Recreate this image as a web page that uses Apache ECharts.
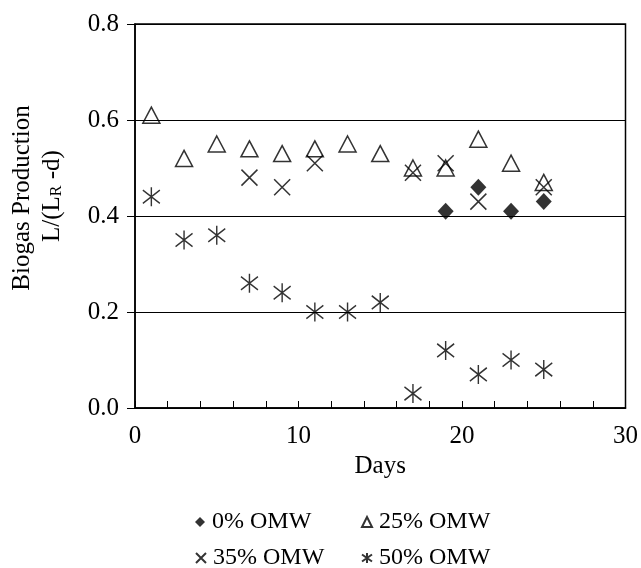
<!DOCTYPE html>
<html><head><meta charset="utf-8">
<script src="https://cdn.jsdelivr.net/npm/echarts@6/dist/echarts.min.js"></script>
<style>html,body{margin:0;padding:0;background:#fff}#c{width:641px;height:568px}</style>
</head><body><div id="c"></div>
<script>
var seriesNames = ['0% OMW', '25% OMW', '35% OMW', '50% OMW'];
var days0 = [19, 21, 23, 25];
var omw0 = [0.41, 0.46, 0.41, 0.43];
var days25 = [1, 3, 5, 7, 9, 11, 13, 15, 17, 19, 21, 23, 25];
var omw25 = [0.61, 0.52, 0.55, 0.54, 0.53, 0.54, 0.55, 0.53, 0.50, 0.50, 0.56, 0.51, 0.47];
var days35 = [7, 9, 11, 17, 19, 21, 25];
var omw35 = [0.48, 0.46, 0.51, 0.49, 0.51, 0.43, 0.46];
var days50 = [1, 3, 5, 7, 9, 11, 13, 15, 17, 19, 21, 23, 25];
var omw50 = [0.44, 0.35, 0.36, 0.26, 0.24, 0.20, 0.20, 0.22, 0.03, 0.12, 0.07, 0.10, 0.08];
var xTicks = [0, 10, 20, 30];
var yTicks = [0.0, 0.2, 0.4, 0.6, 0.8];

function pairs(xs, ys) { return xs.map(function (x, i) { return [x, ys[i]]; }); }
var FONT = '"Liberation Serif", "DejaVu Serif", serif';
var X_PATH = 'path://M0 0 L10 10 M10 0 L0 10';
var AST_PATH = 'path://M5 0 L5 10 M0 1.5 L10 8.5 M10 1.5 L0 8.5';
var LEG_FONT = { fontFamily: FONT, fontSize: 24, color: '#000', padding: [0, 0, 0, 2] };

function leg(name, left, top) {
  return { data: [name], left: left, top: top, itemWidth: 10, itemHeight: 10, itemGap: 0, itemTextGap: 5,
    textStyle: LEG_FONT, padding: 0 };
}

var chart = echarts.init(document.getElementById('c'), null, { renderer: 'canvas' });
chart.setOption({
  backgroundColor: '#fff',
  animation: false,
  textStyle: { fontFamily: FONT, color: '#000' },
  grid: { left: 135, right: 12, top: 24, bottom: 160, show: true, borderColor: '#000', borderWidth: 1.5, backgroundColor: 'transparent' },
  xAxis: {
    type: 'value', min: xTicks[0], max: xTicks[xTicks.length - 1], interval: 10,
    name: 'Days', nameLocation: 'middle', nameGap: 46,
    nameTextStyle: { fontFamily: FONT, fontSize: 25, color: '#000' },
    axisLine: { lineStyle: { color: '#000', width: 1.5 } },
    axisTick: { show: true, inside: true, length: 7, lineStyle: { color: '#000', width: 1 } },
    minorTick: { show: true, splitNumber: 5, length: 7, lineStyle: { color: '#000', width: 1 } },
    axisLabel: { fontFamily: FONT, fontSize: 25, color: '#000', margin: 16 },
    splitLine: { show: false }
  },
  yAxis: {
    type: 'value', min: yTicks[0], max: yTicks[yTicks.length - 1], interval: 0.2,
    axisLine: { show: true, lineStyle: { color: '#000', width: 1.5 } },
    axisTick: { show: true, inside: false, length: 8, lineStyle: { color: '#000', width: 1 } },
    axisLabel: { fontFamily: FONT, fontSize: 25, color: '#000', margin: 16, formatter: function (v) { return v.toFixed(1); } },
    splitLine: { show: true, lineStyle: { color: '#000', width: 1 } }
  },
  legend: [
    leg(seriesNames[0], 195, 510),
    leg(seriesNames[1], 361, 510),
    leg(seriesNames[2], 195, 546),
    leg(seriesNames[3], 361, 546)
  ],
  graphic: [
    { type: 'text', rotation: Math.PI / 2, x: 22, y: 198,
      style: { text: 'Biogas Production', fontFamily: FONT, fontSize: 25, fill: '#000', align: 'center', verticalAlign: 'middle' } },
    { type: 'text', rotation: Math.PI / 2, x: 52, y: 196,
      style: { text: 'L/(L{s|R} -d)', rich: { s: { fontFamily: FONT, fontSize: 16, fill: '#000', verticalAlign: 'bottom', padding: [7, 0, 0, 0] } },
        fontFamily: FONT, fontSize: 25, fill: '#000', align: 'center', verticalAlign: 'middle' } }
  ],
  series: [
    { name: seriesNames[0], type: 'scatter', data: pairs(days0, omw0), symbol: 'diamond', symbolSize: [16, 17],
      itemStyle: { color: '#000' }, z: 5 },
    { name: seriesNames[1], type: 'scatter', data: pairs(days25, omw25), symbol: 'triangle', symbolSize: [17, 16],
      itemStyle: { color: 'transparent', borderColor: '#000', borderWidth: 1.5 }, z: 3 },
    { name: seriesNames[2], type: 'scatter', data: pairs(days35, omw35), symbol: X_PATH, symbolSize: 16,
      itemStyle: { color: 'transparent', borderColor: '#000', borderWidth: 1.5 }, z: 4 },
    { name: seriesNames[3], type: 'scatter', data: pairs(days50, omw50), symbol: AST_PATH, symbolSize: [17, 19],
      itemStyle: { color: 'transparent', borderColor: '#000', borderWidth: 1.5 }, z: 4 }
  ]
});
</script></body></html>
